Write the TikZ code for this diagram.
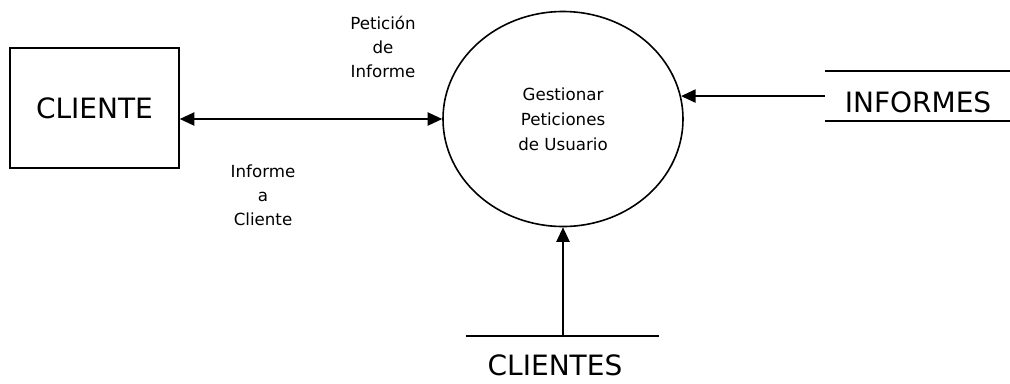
\documentclass[tikz,border=0pt]{standalone}
\usepackage{fontspec}
\setmainfont{DejaVu Sans}
\usetikzlibrary{arrows.meta,shapes.geometric}

\tikzset{every picture/.style={line width=1.2pt}}
\tikzset{
  entidad/.style={draw, rectangle, minimum width=126.75pt, minimum height=90pt, inner sep=0.75pt, font=\fontsize{21}{25}\selectfont},
  proceso/.style={draw, ellipse, minimum width=180pt, minimum height=161.25pt, inner sep=0.75pt, align=center, font=\fontsize{12.5}{18.75}\selectfont},
  flujo/.style={inner sep=0.75pt, align=center, font=\fontsize{12.5}{18}\selectfont},
  almacen/.style={inner sep=0pt, font=\fontsize{21}{25}\selectfont},
  flecha/.style={-{Triangle[length=11pt,width=10pt]}},
  doble/.style={{Triangle[length=11pt,width=10pt]}-{Triangle[length=11pt,width=10pt]}},
}

\begin{document}
\begin{tikzpicture}[x=0.75pt,y=0.75pt,yscale=-1,xscale=1]
    \useasboundingbox (0,0) rectangle (1010,383);

    % Entidad externa
    \node [entidad] (cliente) at (94.5,108) {CLIENTE};
    % Proceso
    \node [proceso] (gestion) at (563,119) {Gestionar\\Peticiones\\de Usuario};

    % Almacen INFORMES
    \node [almacen, minimum width=138pt, minimum height=36pt, text height=25pt, text depth=0pt] (informes) at (918,96) {INFORMES};
    \draw (informes.north west) -- (informes.north east);
    \draw (informes.south west) -- (informes.south east);

    % Almacen CLIENTES
    \node [almacen] (clientes) at (555,365) {CLIENTES};
    \coordinate (clientesA) at (466,336);
    \coordinate (clientesB) at (659,336);
    \draw (clientesA) -- (clientesB);

    % Flujos
    \draw [doble] (gestion.west -| cliente.east) -- (gestion.west);
    \draw [flecha] (informes.west |- gestion.11) -- (gestion.11);
    \draw [flecha] (gestion.south |- clientesA) -- (gestion.south);

    % Text Node
    \node [flujo] (peticion) at (383,47) {Petición\\de\\Informe};
    % Text Node
    \node [flujo] (informe) at (263,195) {Informe\\a\\Cliente};

\end{tikzpicture}
\end{document}
